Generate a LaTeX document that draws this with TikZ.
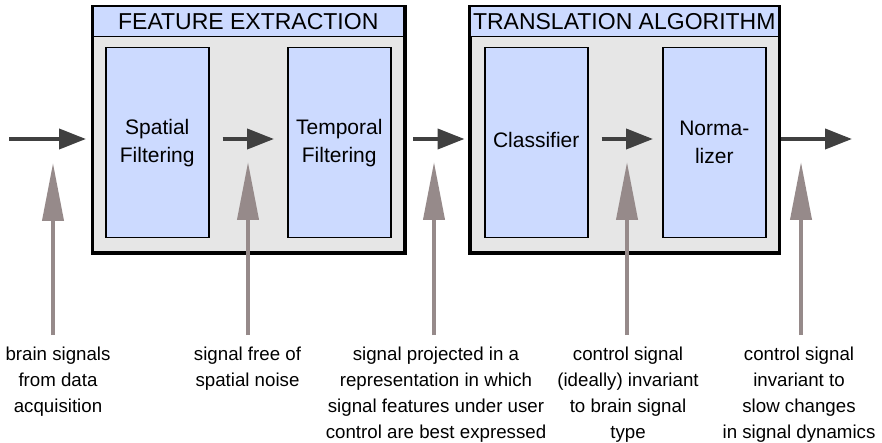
\documentclass[tikz,border=0pt]{standalone}
\usepackage{fontspec}
\setmainfont{Liberation Sans}
\usetikzlibrary{arrows.meta}

\definecolor{stageblue}{RGB}{204,218,255}
\definecolor{panelgray}{RGB}{230,230,230}
\definecolor{flowdark}{RGB}{64,64,64}
\definecolor{notemauve}{RGB}{150,138,138}

\tikzset{
  panel/.style={draw=black, line width=2.4pt, fill=panelgray, anchor=north west,
    minimum height=245pt, inner sep=0pt},
  panelframe/.style={draw=black, line width=2.4pt},
  titlebar/.style={draw=black, line width=1.5pt, fill=stageblue, anchor=north west,
    minimum height=30pt, inner sep=0pt,
    font=\fontsize{23}{28}\selectfont},
  stagebox/.style={draw=black, line width=1.5pt, fill=stageblue, anchor=north west,
    minimum width=103pt, minimum height=190pt, inner sep=0pt, align=center,
    font=\fontsize{21}{28}\selectfont},
  flow/.style={draw=flowdark, line width=4pt,
    -{Triangle[length=27pt,width=20pt]}},
  note/.style={draw=notemauve, line width=4pt,
    -{Triangle[length=58pt,width=21pt]}},
  caption/.style={anchor=north, inner sep=0pt, align=center,
    font=\fontsize{18.7}{26}\selectfont},
}

\begin{document}
\begin{tikzpicture}[x=1pt,y=-1pt]
\useasboundingbox (0,0) rectangle (882,443);

% feature extraction block
\node[panel, minimum width=311pt] (fe) at (92,6) {};
\node[titlebar, minimum width=311pt] (fetitle) at (92,6) {FEATURE EXTRACTION};
\draw[panelframe] (fe.north west) rectangle (fe.south east);
\node[stagebox] (spatial) at (105,47) {Spatial\\Filtering};
\node[stagebox] (temporal) at (287,47) {Temporal\\Filtering};

% translation algorithm block
\node[panel, minimum width=308pt] (ta) at (469.5,6) {};
\node[titlebar, minimum width=308pt] (tatitle) at (469.5,6) {TRANSLATION ALGORITHM};
\draw[panelframe] (ta.north west) rectangle (ta.south east);
\node[stagebox] (classifier) at (484,47) {\raisebox{3pt}[\height][\depth]{Classifier}};
\node[stagebox] (normalizer) at (662,47) {Norma-\\lizer};

% signal flow
\coordinate (in) at (9,139);
\coordinate (out) at (852,139);
\draw[flow, shorten >=6pt] (in) -- (in -| fe.west);
\draw[flow, shorten <=13pt, shorten >=13pt] (in -| spatial.east) -- (in -| temporal.west);
\draw[flow, shorten <=8pt, shorten >=5pt] (in -| fe.east) -- (in -| ta.west);
\draw[flow, shorten <=13pt, shorten >=9pt] (in -| classifier.east) -- (in -| normalizer.west);
\draw[flow, shorten <=1pt] (in -| ta.east) -- (out);

% signal descriptions
\node[caption] (c1) at (58,347) {brain signals\\from data\\acquisition};
\node[caption] (c2) at (247.5,347) {signal free of\\spatial noise};
\node[caption] (c3) at (436,347) {signal projected in a\\representation in which\\signal features under user\\control are best expressed};
\node[caption] (c4) at (628,347) {control signal\\(ideally) invariant\\to brain signal\\type};
\node[caption] (c5) at (799,347) {control signal\\invariant to\\slow changes\\in signal dynamics};

\coordinate (t1) at (53,163);
\coordinate (t2) at (248,162);
\coordinate (t3) at (434,162);
\coordinate (t4) at (627,162);
\coordinate (t5) at (801,162);
\draw[note, shorten <=12pt] (t1 |- c1.north) -- (t1);
\draw[note, shorten <=12pt] (t2 |- c2.north) -- (t2);
\draw[note, shorten <=12pt] (t3 |- c3.north) -- (t3);
\draw[note, shorten <=12pt] (t4 |- c4.north) -- (t4);
\draw[note, shorten <=12pt] (t5 |- c5.north) -- (t5);
\end{tikzpicture}
\end{document}
